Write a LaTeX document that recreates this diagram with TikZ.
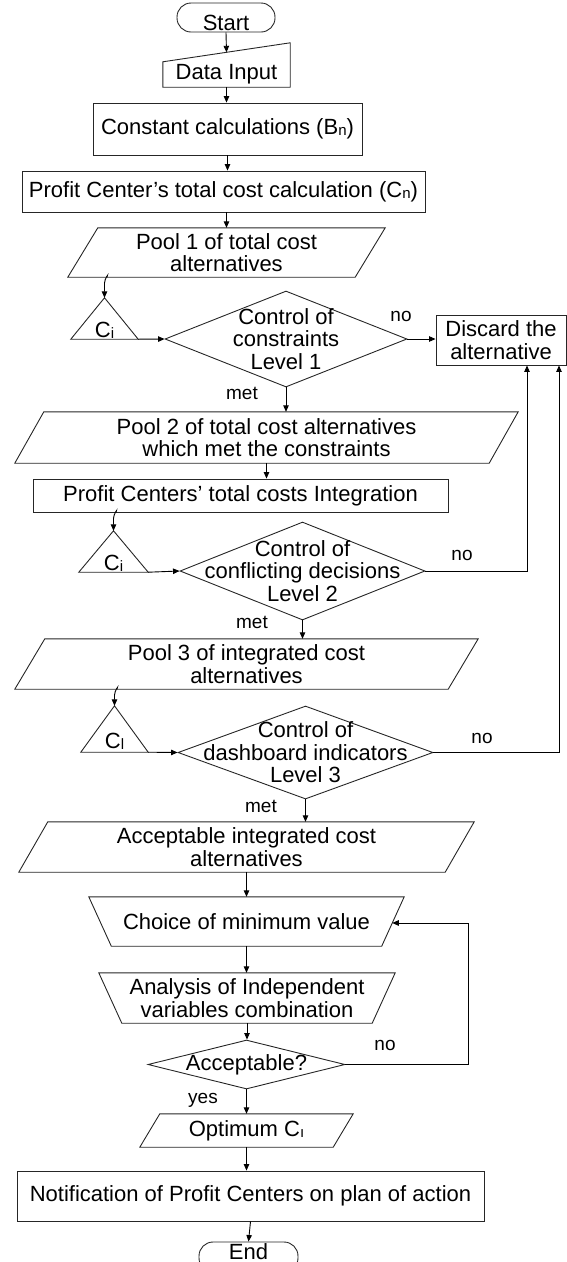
\documentclass[tikz,border=0pt]{standalone}
\usepackage{fontspec}
\setmainfont{Liberation Sans}
\usetikzlibrary{arrows.meta,calc,shapes.geometric}

% small index letter set just below the baseline
\newcommand\lowsub[1]{\raisebox{-1pt}{\fontsize{15}{15}\selectfont #1}}
% outlines drawn around invisible frame nodes
\newcommand\drawpara[2]{\draw[shapeline] (#1.south west) -- ([xshift=-#2]#1.south east) -- (#1.north east) -- ([xshift=#2]#1.north west) -- cycle;}
\newcommand\drawtrap[2]{\draw[shapeline] (#1.north west) -- (#1.north east) -- ([xshift=-#2]#1.south east) -- ([xshift=#2]#1.south west) -- cycle;}
\newcommand\drawmanin[2]{\draw[shapeline] (#1.south west) -- (#1.south east) -- ([yshift=#2]#1.north east) -- (#1.north west) -- cycle;}
\newcommand\drawtri[1]{\draw[shapeline] (#1.south west) -- (#1.north) -- (#1.south east) -- cycle;}

\begin{document}
\begin{tikzpicture}[x=1pt,y=1pt,
  font=\fontsize{22}{22.5}\selectfont,
  shapeline/.style={draw=black!85, line width=0.9pt},
  arr/.style={draw=black, line width=0.9pt, -{Triangle[length=6.5pt,width=5.5pt]}},
  proc/.style={shapeline, rectangle, inner sep=0pt, align=center},
  frame/.style={inner sep=0pt, align=center},
  term/.style={shapeline, rectangle, rounded corners=14pt, inner sep=0pt},
  decide/.style={shapeline, diamond, inner sep=0pt},
  lbl/.style={font=\fontsize{19}{19}\selectfont, inner sep=0pt},
]
\useasboundingbox (0,0) rectangle (567,-1262);
\clip (0,0) rectangle (567,-1262);

% ---------- nodes ----------
\node[term, minimum width=98pt, minimum height=29pt,
      label={[yshift=-5pt]center:Start}] (start) at (226,-17.5) {};

\node[frame, minimum width=127pt, minimum height=25pt] (di) at (226.5,-74.5) {Data Input};
\drawmanin{di}{19pt}

\node[proc, minimum width=269pt, minimum height=52pt] (cst) at (227.5,-129)
  {Constant calculations (B\lowsub{n})};

\node[proc, minimum width=403pt, minimum height=41pt] (pcc) at (223.5,-191.5)
  {Profit Center’s total cost calculation (C\lowsub{n})};

\node[frame, minimum width=317pt, minimum height=49pt] (p1) at (226.5,-252.5)
  {Pool 1 of total cost\\alternatives};
\drawpara{p1}{30pt}

\node[frame, minimum width=67pt, minimum height=41pt,
      label={[yshift=-11.5pt]center:C\lowsub{i}}] (t1) at (104.5,-318.5) {};
\drawtri{t1}

\node[decide, minimum width=242pt, minimum height=96pt,
      label={[align=center]center:{Control of\\constraints\\Level 1}}] (d1) at (286,-339) {};

\node[proc, minimum width=130pt, minimum height=50pt] (dis) at (501,-340)
  {Discard the\\alternative};

\node[frame, minimum width=503pt, minimum height=51pt] (p2) at (266.5,-437.5)
  {Pool 2 of total cost alternatives\\which met the constraints};
\drawpara{p2}{29pt}

\node[proc, minimum width=415pt, minimum height=33pt] (ig) at (240.5,-495.5)
  {Profit Centers’ total costs Integration};

\node[frame, minimum width=69pt, minimum height=41pt,
      label={[yshift=-12pt]center:C\lowsub{i}}] (t2) at (113.5,-551.5) {};
\drawtri{t2}

\node[decide, minimum width=245pt, minimum height=98pt,
      label={[align=center]center:{Control of\\conflicting decisions\\Level 2}}] (d2) at (302.5,-571) {};

\node[frame, minimum width=463pt, minimum height=50pt] (p3) at (246.5,-664)
  {Pool 3 of integrated cost\\alternatives};
\drawpara{p3}{30pt}

\node[frame, minimum width=67pt, minimum height=46pt,
      label={[yshift=-12.5pt]center:C\lowsub{l}}] (t3) at (114.5,-729) {};
\drawtri{t3}

\node[decide, minimum width=255pt, minimum height=93pt,
      label={[align=center]center:{Control of\\dashboard indicators\\Level 3}}] (d3) at (305.5,-752.5) {};

\node[frame, minimum width=455pt, minimum height=50pt] (ac) at (246.5,-847)
  {Acceptable integrated cost\\alternatives};
\drawpara{ac}{29pt}

\node[frame, minimum width=315pt, minimum height=49pt] (ch) at (246.5,-921.5)
  {Choice of minimum value};
\drawtrap{ch}{22.5pt}

\node[frame, minimum width=296pt, minimum height=50pt] (an) at (247,-998)
  {Analysis of Independent\\variables combination};
\drawtrap{an}{23pt}

\node[decide, minimum width=197pt, minimum height=49pt,
      label={center:Acceptable?}] (d4) at (246.5,-1064.5) {};

\node[frame, minimum width=213pt, minimum height=33pt] (op) at (246.5,-1130.5)
  {Optimum C\lowsub{ı}};
\drawpara{op}{20pt}

\node[proc, minimum width=467pt, minimum height=50pt] (nt) at (250.5,-1196)
  {Notification of Profit Centers on plan of action};

\node[term, minimum width=99pt, minimum height=30pt,
      label={[yshift=5.5pt]center:End}] (en) at (248.5,-1257) {};

% ---------- branch labels ----------
\node[lbl] (no1)  at (401,-316)  {no};
\node[lbl] (met1) at (242,-393)  {met};
\node[lbl] (no2)  at (462,-555)  {no};
\node[lbl] (met2) at (252,-622)  {met};
\node[lbl] (no3)  at (482,-738)  {no};
\node[lbl] (met3) at (261,-806)  {met};
\node[lbl] (no4)  at (385,-1045) {no};
\node[lbl] (yes1) at (203,-1100) {yes};

% ---------- connectors ----------
\draw[arr] (start.south) -- ($(di.north west)!0.5!([yshift=19pt]di.north east)$);
\draw[arr] (di.south) -- (di.south |- cst.north);
\draw[arr] (cst.south) -- (cst.south |- pcc.north);
\draw[arr] (p1.north |- pcc.south) -- (p1.north);

\draw[arr] ([xshift=2.5pt]t1.north |- p1.south) .. controls +(2,5) and +(0,4) ..
           ([yshift=-6pt]t1.north |- p1.south) -- (t1.north);
\draw[arr] (t1.south east) -- (d1.west);
\draw[arr] (d1.east) -- (d1.east -| dis.west);
\draw[arr] (d1.south) -- (d1.south |- p2.north);
\draw[arr] (p2.south) -- (p2.south |- ig.north);

\draw[arr] ([xshift=2.5pt]t2.north |- ig.south) .. controls +(2,5) and +(0,4) ..
           ([yshift=-6pt]t2.north |- ig.south) -- (t2.north);
\draw[arr] (t2.south east) -- (d2.west);
\draw[arr] (d2.east) -| ([xshift=26pt]dis.south);
\draw[arr] (d2.south) -- (d2.south |- p3.north);

\draw[arr] ([xshift=2.5pt]t3.north |- p3.south) .. controls +(2,5) and +(0,4) ..
           ([yshift=-6pt]t3.north |- p3.south) -- (t3.north);
\draw[arr] (t3.south east) -- (d3.west);
\draw[arr] (d3.east) -| ([xshift=58pt]dis.south);
\draw[arr] (d3.south) -- (d3.south |- ac.north);

\draw[arr] (ac.south) -- (ac.south |- ch.north);
\draw[arr] (ch.south) -- (ch.south |- an.north);
\draw[arr] (an.south) -- (an.south |- d4.north);

\coordinate (chr) at ($(ch.north east)!0.53!([xshift=-22.5pt]ch.south east)$);
\draw[arr] (d4.east) -| ([xshift=76pt]chr) -- (chr);

\draw[arr] (d4.south) -- (d4.south |- op.north);
\draw[arr] (op.south) -- (op.south |- nt.north);
\draw[arr] (nt.south) -- (en.north);
\end{tikzpicture}
\end{document}
